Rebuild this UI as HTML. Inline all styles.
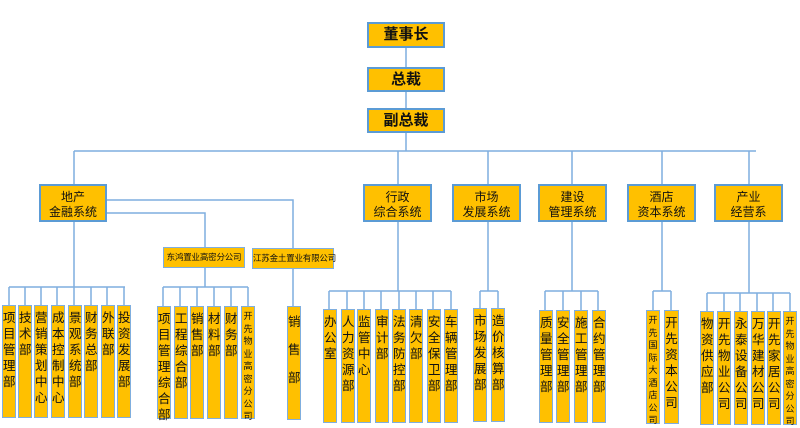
<!DOCTYPE html>
<html><head><meta charset="utf-8"><style>
body{margin:0;width:800px;height:428px;background:#fff;position:relative;overflow:hidden;font-family:"Liberation Sans","Noto Sans CJK SC",sans-serif}
.b{position:absolute;background:#FFC000;box-sizing:border-box;color:#111;text-align:center}
.t{border:2px solid #5B9BD5;font-weight:bold;font-size:15px;line-height:22px}
.m{border:2px solid #5B9BD5;font-size:12px;line-height:15px;padding-top:4px}
.s{border:1.5px solid #7FAEDF;font-size:8.5px;line-height:18px;white-space:nowrap;letter-spacing:-0.2px}
.l{border:1px solid #7FAEDF;font-size:12.5px;line-height:16px;padding-top:3px;word-break:break-all;font-family:"Noto Sans CJK SC",sans-serif}
.l.k{font-size:9px;line-height:12.5px}
svg{position:absolute;left:0;top:0}
</style></head><body>
<svg width="800" height="428"><g stroke="#7FAEDF" stroke-width="1.5" fill="none">
<path d="M406 48V67M406 92V108M406 133V151M74 151H756M74 151V184M398 151V184M488 151V184M572 151V184M662 151V184M749 151V184"/>
<path d="M107 200H293V248M107 213H205V247M74 222V287M9 287H125M9 287V305M25 287V305M41 287V305M57 287V305M74 287V305M91 287V305M107 287V305M124 287V305"/>
<path d="M205 268V287M163 287H248M163 287V306M180 287V306M197 287V306M214 287V306M231 287V306M248 287V306M293 269V306"/>
<path d="M398 222V291M329 291H451M329 291V309M347 291V309M364 291V309M381 291V309M399 291V309M416 291V309M433 291V309M451 291V309"/>
<path d="M488 222V291M480 291H498M480 291V308M498 291V308"/>
<path d="M572 222V291M545 291H598M545 291V310M563 291V310M581 291V310M598 291V310"/>
<path d="M662 222V291M653 291H671M653 291V310M671 291V310"/>
<path d="M749 222V293M707 293H790M707 293V311M724 293V311M740 293V311M757 293V311M773 293V311M790 293V311"/>
</g></svg>
<div class="b t" style="left:367px;top:22px;width:78px;height:26px">董事长</div>
<div class="b t" style="left:367px;top:67px;width:78px;height:25px">总裁</div>
<div class="b t" style="left:367px;top:108px;width:78px;height:25px">副总裁</div>
<div class="b m" style="left:39px;top:184px;width:68px;height:38px">地产<br>金融系统</div>
<div class="b m" style="left:363px;top:184px;width:69px;height:38px">行政<br>综合系统</div>
<div class="b m" style="left:452px;top:184px;width:69px;height:38px">市场<br>发展系统</div>
<div class="b m" style="left:538px;top:184px;width:69px;height:38px">建设<br>管理系统</div>
<div class="b m" style="left:627px;top:184px;width:69px;height:38px">酒店<br>资本系统</div>
<div class="b m" style="left:714px;top:184px;width:69px;height:38px">产业<br>经营系</div>
<div class="b s" style="left:163px;top:247px;width:82px;height:21px">东鸿置业高密分公司</div>
<div class="b s" style="left:252px;top:248px;width:82px;height:21px">江苏金土置业有限公司</div>

<div class="b l" style="left:2px;top:305px;width:14px;height:113px">项目管理部</div>
<div class="b l" style="left:18px;top:305px;width:14px;height:113px">技术部</div>
<div class="b l" style="left:34px;top:305px;width:14px;height:113px">营销策划中心</div>
<div class="b l" style="left:51px;top:305px;width:14px;height:113px">成本控制中心</div>
<div class="b l" style="left:68px;top:305px;width:14px;height:113px">景观系统部</div>
<div class="b l" style="left:84px;top:305px;width:14px;height:113px">财务总部</div>
<div class="b l" style="left:101px;top:305px;width:14px;height:113px">外联部</div>
<div class="b l" style="left:117px;top:305px;width:14px;height:113px">投资发展部</div>

<div class="b l" style="left:157px;top:306px;width:14px;height:113px">项目管理综合部</div>
<div class="b l" style="left:174px;top:306px;width:14px;height:113px">工程综合部</div>
<div class="b l" style="left:190px;top:306px;width:14px;height:113px">销售部</div>
<div class="b l" style="left:207px;top:306px;width:14px;height:113px">材料部</div>
<div class="b l" style="left:224px;top:306px;width:14px;height:113px">财务部</div>
<div class="b l k" style="left:241px;top:306px;width:14px;height:113px">开先物业高密分公司</div>
<div class="b l" style="left:287px;top:306px;width:14px;height:114px;line-height:28px;padding-top:0">销售部</div>

<div class="b l" style="left:323px;top:309px;width:14px;height:114px">办公室</div>
<div class="b l" style="left:341px;top:309px;width:14px;height:114px">人力资源部</div>
<div class="b l" style="left:357px;top:309px;width:14px;height:114px">监管中心</div>
<div class="b l" style="left:375px;top:309px;width:14px;height:114px">审计部</div>
<div class="b l" style="left:392px;top:309px;width:14px;height:114px">法务防控部</div>
<div class="b l" style="left:409px;top:309px;width:14px;height:114px">清欠部</div>
<div class="b l" style="left:427px;top:309px;width:14px;height:114px">安全保卫部</div>
<div class="b l" style="left:444px;top:309px;width:14px;height:114px">车辆管理部</div>

<div class="b l" style="left:473px;top:308px;width:14px;height:114px">市场发展部</div>
<div class="b l" style="left:491px;top:308px;width:14px;height:114px">造价核算部</div>

<div class="b l" style="left:539px;top:310px;width:14px;height:113px">质量管理部</div>
<div class="b l" style="left:556px;top:310px;width:14px;height:113px">安全管理部</div>
<div class="b l" style="left:574px;top:310px;width:14px;height:113px">施工管理部</div>
<div class="b l" style="left:592px;top:310px;width:14px;height:113px">合约管理部</div>

<div class="b l k" style="left:646px;top:310px;width:14px;height:114px">开先国际大酒店公司</div>
<div class="b l" style="left:664px;top:310px;width:15px;height:114px">开先资本公司</div>

<div class="b l" style="left:700px;top:311px;width:14px;height:114px">物资供应部</div>
<div class="b l" style="left:717px;top:311px;width:14px;height:114px">开先物业公司</div>
<div class="b l" style="left:734px;top:311px;width:14px;height:114px">永泰设备公司</div>
<div class="b l" style="left:751px;top:311px;width:14px;height:114px">万华建材公司</div>
<div class="b l" style="left:767px;top:311px;width:14px;height:114px">开先家居公司</div>
<div class="b l k" style="left:783px;top:311px;width:14px;height:114px">开先物业高密分公司</div>
</body></html>
